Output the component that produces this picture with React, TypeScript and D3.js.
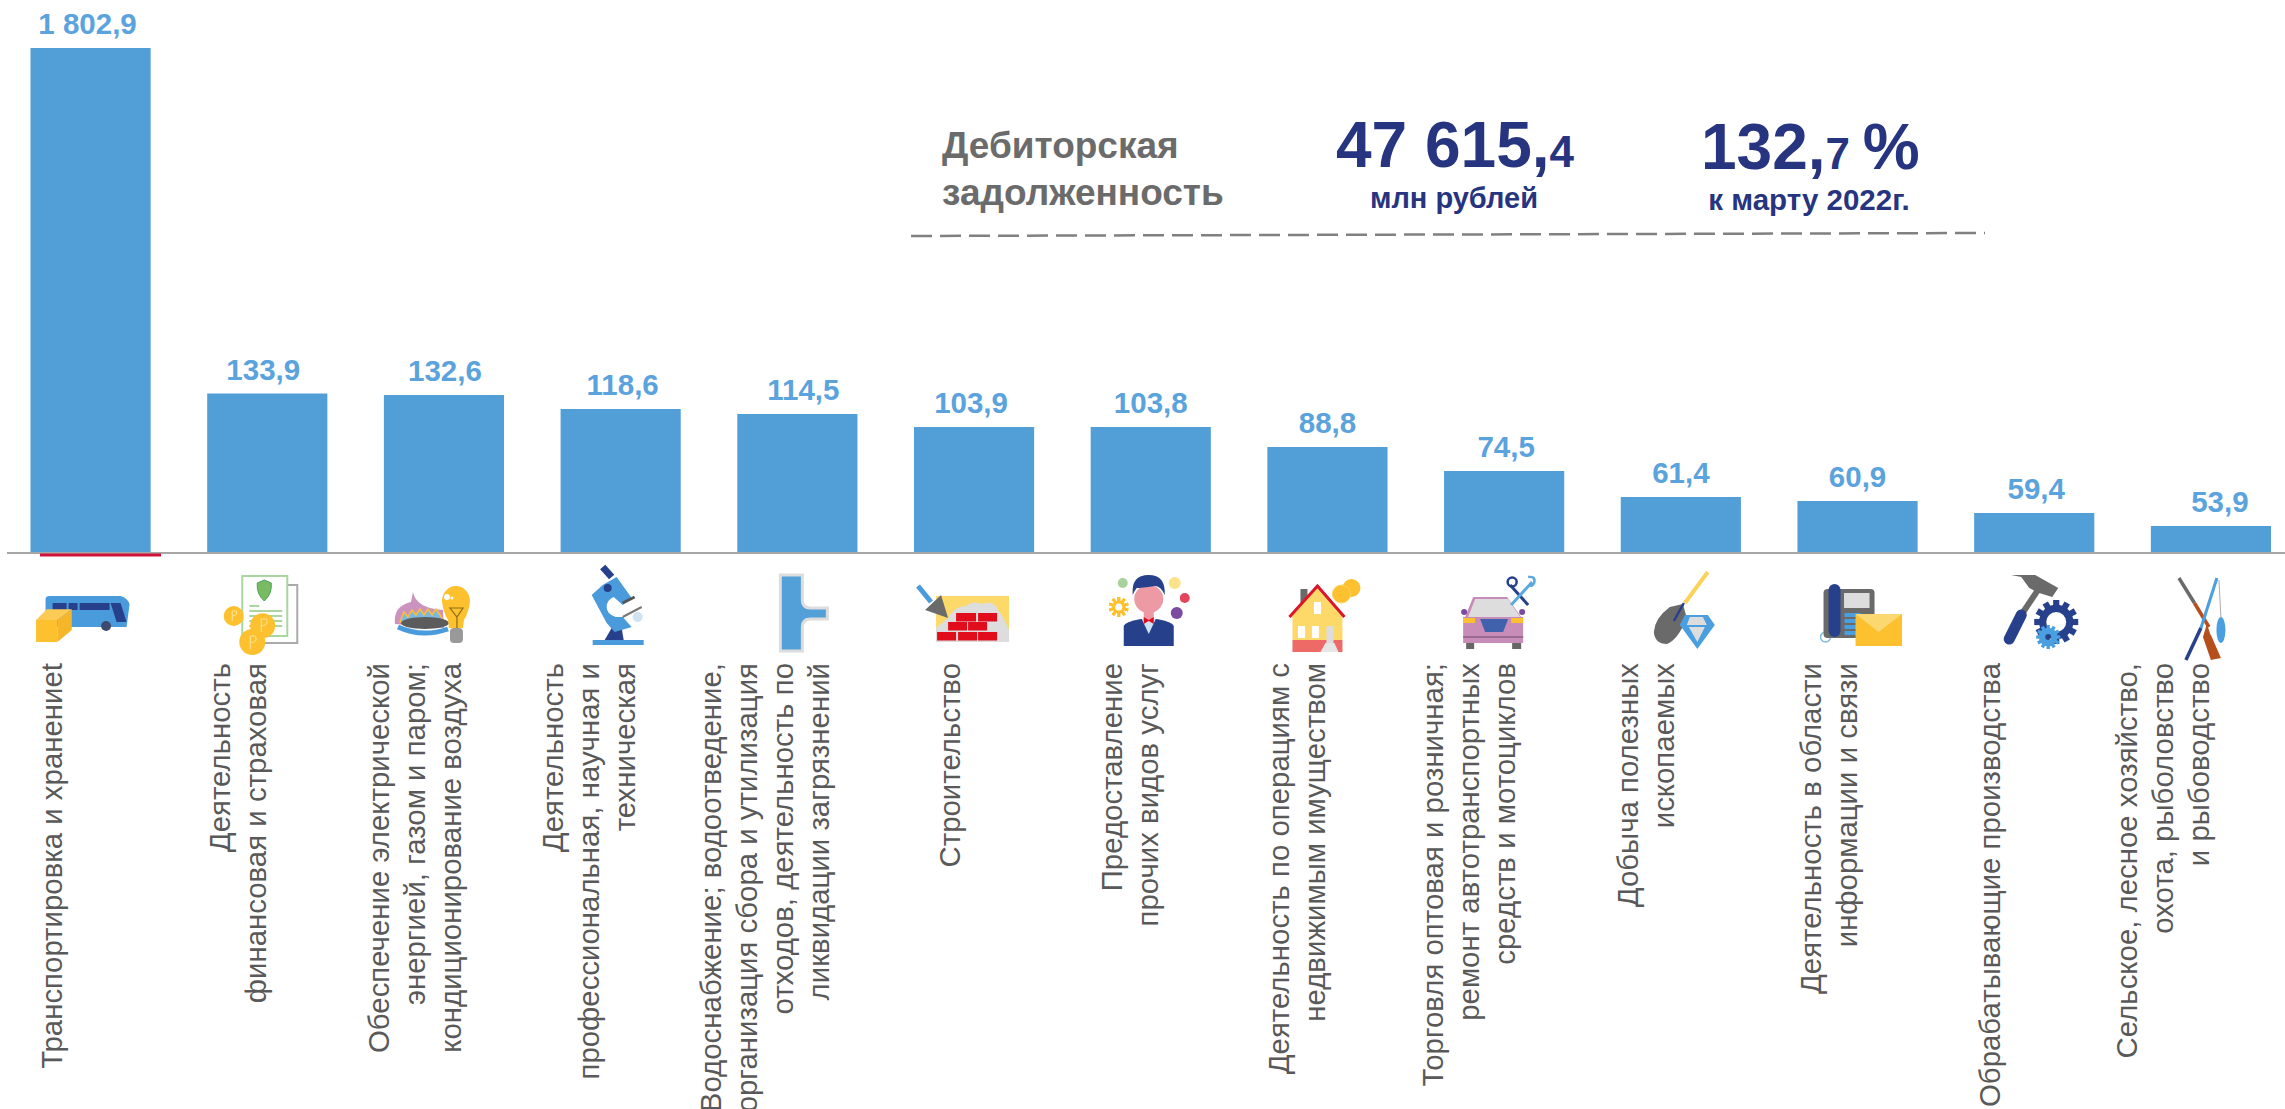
import React from "react";
import * as d3 from "d3";

const categories = [
  "transport", "finance", "energy", "science", "water", "building", "services",
  "realty", "trade", "mining", "info", "manufacture", "agro",
];

const values = [1802.9, 133.9, 132.6, 118.6, 114.5, 103.9, 103.8, 88.8, 74.5, 61.4, 60.9, 59.4, 53.9];

const labels = [
  ["Транспортировка и хранениеt"],
  ["Деятельность", "финансовая и страховая"],
  ["Обеспечение электрической", "энергией, газом и паром;", "кондиционирование воздуха"],
  ["Деятельность", "профессиональная, научная и", "техническая"],
  ["Водоснабжение; водоотведение,", "организация сбора и утилизация", "отходов, деятельность по", "ликвидации загрязнений"],
  ["Строительство"],
  ["Предоставление", "прочих видов услуг"],
  ["Деятельность по операциям с", "недвижимым имуществом"],
  ["Торговля оптовая и розничная;", "ремонт автотранспортных", "средств и мотоциклов"],
  ["Добыча полезных", "ископаемых"],
  ["Деятельность в области", "информации и связи"],
  ["Обрабатывающие производства"],
  ["Сельское, лесное хозяйство,", "охота, рыболовство", "и рыбоводство"],
];

const WIDTH = 2285;
const HEIGHT = 1109;
const FONT = "'Liberation Sans', Arial, sans-serif";

const BLUE = "#529fd8";
const NAVY = "#27408b";
const TEXT_NAVY = "#27347f";
const YELLOW = "#fdc02f";
const GRAY = "#6b6b6b";

const fmt = d3.formatLocale({ decimal: ",", thousands: " ", grouping: [3], currency: ["", ""] }).format(",.1f");

const BusIcon = () => (
  <g>
    <path d="M-45,-1 Q-45,-4 -41,-4 H30 Q37,-2 39,4 L36,27 H-45 Z" fill="#4a9bdc" />
    <rect x={-38} y={3} width={14} height={7} fill={NAVY} />
    <rect x={-22} y={3} width={9} height={7} fill={NAVY} />
    <rect x={-11} y={3} width={30} height={7} fill={NAVY} />
    <path d="M20,3 H30 L36,22 H26 Z" fill={NAVY} />
    <circle cx={15.5} cy={26} r={5} fill="#3d4a6e" />
    <path d="M-54.5,20 L-43.8,9.3 H-18.8 L-33.2,20 Z" fill="#fdcb55" />
    <rect x={-54.5} y={20} width={21.3} height={22} fill={YELLOW} />
    <path d="M-33.2,20 L-18.8,9.3 V30 L-33.2,42 Z" fill="#f5b62a" />
  </g>
);

const FinanceIcon = () => (
  <g>
    <rect x={-15} y={-15} width={45} height={58} fill="#fff" stroke="#aaa" strokeWidth={2} />
    <rect x={-25} y={-24} width={45} height={60} fill="#fff" stroke="#a9d79f" strokeWidth={2} />
    <path d="M-10,-17 L-3,-20 L4,-17 Q5,-6 -3,1 Q-11,-6 -10,-17 Z" fill="#78bb62" stroke="#4da35a" />
    <path d="M-18,6 H-8 M-18,11 H15 M-18,16 H15 M-18,21 H15 M-18,26 H15" stroke="#a9d79f" strokeWidth={2} />
    <circle cx={-33.6} cy={16} r={10} fill={YELLOW} />
    <circle cx={-4.6} cy={25.7} r={12.5} fill={YELLOW} />
    <circle cx={-15} cy={42} r={13} fill={YELLOW} />
    <path d="M-35,21 V11 H-31 Q-29,15 -35,16 M-6,32 V19 H-1 Q2,25 -6,26 M-17,49 V36 H-12 Q-9,42 -17,43" stroke="#fbe08a" strokeWidth={1.2} fill="none" />
  </g>
);

const EnergyIcon = () => (
  <g>
    <path d="M-49,24 Q-51,6 -33,2 Q-32,-3 -31,-8 Q-28,8 -1,10 L0,28 Z" fill="#cc93bf" />
    <path d="M-44,22 L-40,12 L-36,17 L-32,10 L-28,15 L-24,9 L-20,15 L-16,9 L-12,15 L-8,9 L-4,15 L0,22 Z" fill="#7db8e2" stroke={YELLOW} strokeWidth={1.5} />
    <ellipse cx={-19} cy={23} rx={24} ry={6} fill="#5c5c5c" />
    <path d="M-46,27 Q-22,38 4,29" stroke="#4a9bdc" strokeWidth={5} fill="none" />
    <path d="M-2,1 A14,15 0 1 1 26,1 Q25,12 20,20 L19,28 H5 L4,20 Q-1,12 -2,1 Z" fill={YELLOW} />
    <path d="M6,8 H19 L13,17 Z M13,17 V28" stroke="#8a6a18" strokeWidth={1.2} fill="none" />
    <rect x={6} y={28} width={13} height={15} rx={4} fill="#999" />
    <circle cx={3} cy={-3} r={3} fill="#fff" />
    <circle cx={8} cy={-2} r={1.5} fill="#fff" />
  </g>
);

const ScienceIcon = () => (
  <g>
    <path d="M-9,28 H1 L3,40 H-16 Z" fill={NAVY} />
    <rect x={-28} y={40} width={51} height={5} fill="#4a9bdc" />
    <path d="M-29,-5 L-18,-15 L-4,-23 L11,-2 L2,5 L-7,-3 Q-14,0 -14,7 Q-14,14 -5,17 L2,17 L11,27 L-6,32 L-14,23 Z" fill="#4a9bdc" />
    <path d="M-18,-33 L-9,-23" stroke={NAVY} strokeWidth={7} />
    <circle cx={-13} cy={-12} r={4} fill={NAVY} />
    <path d="M2,3 L14,-3" stroke="#555" strokeWidth={3} />
    <path d="M2,17 L21,7" stroke="#777" strokeWidth={2} />
    <circle cx={17} cy={17} r={5} fill="#cfe3f3" />
  </g>
);

const WaterIcon = () => (
  <path
    d="M-17,-25 H5 V0 Q5,8 13,8 H30 V19 H13 Q5,19 5,27 V51 H-17 Z"
    fill={BLUE}
    stroke="#ddd"
    strokeWidth={3}
  />
);

const BuildingIcon = () => {
  const bricks = [
    [-18, 13, 20], [4, 13, 19],
    [-26, 22, 19], [-6, 22, 19],
    [-37, 32, 19], [-16, 32, 19], [4, 32, 19],
  ];
  return (
    <g>
      <rect x={-38} y={-4} width={73} height={46} fill="#fdd96b" />
      <path d="M-38,42 V28 L-26,18 Q-20,6 -8,6 Q-2,0 8,4 Q20,0 24,10 Q30,18 35,30 V42 Z" fill="#ddd" />
      {bricks.map(([x, y, w]) => (
        <rect key={`${x}-${y}`} x={x} y={y} width={w} height={8.5} fill="#e2101f" />
      ))}
      <path d="M-49,10 L-33,-5 L-26,18 Z" fill={GRAY} />
      <path d="M-56,-14 L-43,2" stroke="#4a9bdc" strokeWidth={5} />
    </g>
  );
};

const ServicesIcon = () => {
  const teeth = d3.range(10).map((i) => i * 36);
  return (
    <g>
      <path d="M-27,46 V26 Q-26,22 -10,19 H6 Q22,22 23,26 V46 Z" fill={NAVY} />
      <path d="M-9,19 L-2,34 L5,19 Z" fill="#cfe5f5" />
      <rect x={-7} y={8} width={10} height={12} fill="#ee9aa5" />
      <ellipse cx={-2} cy={-1} rx={14.5} ry={14} fill="#ee9aa5" />
      <path d="M-18,-5 Q-20,-25 -2,-25 Q15,-25 14,-5 Q10,-14 4,-14 Q-10,-12 -14,-12 Q-16,-10 -18,-5 Z" fill={NAVY} />
      <path d="M-7,17 L-2,20 L3,17 V24 L-2,21 L-7,24 Z" fill="#e2101f" />
      {teeth.map((a) => (
        <rect key={a} x={-1.5} y={-10} width={3} height={20} fill={YELLOW} transform={`translate(-32,7) rotate(${a})`} />
      ))}
      <circle cx={-32} cy={7} r={5} fill="#fff" stroke={YELLOW} strokeWidth={3} />
      <circle cx={-28} cy={-17} r={5} fill="#a7d29b" />
      <circle cx={24} cy={-17} r={6} fill="#fbe28b" />
      <circle cx={34} cy={-2} r={5} fill="#e2455c" />
      <circle cx={26} cy={13} r={6} fill="#7a4ba0" />
    </g>
  );
};

const RealtyIcon = () => (
  <g>
    <rect x={-27} y={-11} width={7} height={14} fill={GRAY} />
    <rect x={-35} y={17} width={50} height={23} fill="#fdd96b" />
    <rect x={-35} y={40} width={50} height={12} fill="#ee6a66" />
    <path d="M-38,17 L-10,-14 L17,17 Z" fill="#fdd96b" />
    <path d="M-38,17 L-10,-14 L17,17" fill="none" stroke="#d9142b" strokeWidth={3} />
    <rect x={-13.5} y={2} width={7} height={12} fill="#fff" />
    <rect x={-29.5} y={26} width={7} height={12} fill="#fff" />
    <rect x={-15.5} y={26} width={7} height={12} fill="#fff" />
    <rect x={-1} y={26} width={7} height={17} fill="#ddd" />
    <path d="M-2,43 H7 L11,52 H-7 Z" fill="#e6e6e6" />
    <circle cx={24} cy={-12} r={9} fill={YELLOW} />
    <circle cx={14} cy={-6} r={9} fill={YELLOW} stroke="#fbd45e" />
  </g>
);

const TradeIcon = () => (
  <g>
    <rect x={-38} y={43} width={8} height={6} fill="#666" />
    <rect x={8} y={43} width={9} height={6} fill="#666" />
    <path d="M-31,-3 H3 L17,17 L19,17 V43 H-41 V17 H-39 Z" fill="#c88cb8" />
    <path d="M-29,-1 H4 L16,17 H-36 Z" fill="#ddd" />
    <path d="M-24,19 H4 L-1,32 H-19 Z" fill="#3f62ac" />
    <rect x={-41} y={18} width={12} height={5} fill={YELLOW} />
    <rect x={7} y={18} width={12} height={5} fill={YELLOW} />
    <path d="M-41,37 H19" stroke="#8d5f87" strokeWidth={1.5} />
    <circle cx={-40} cy={12} r={3} fill="#7a4ba0" />
    <circle cx={18} cy={12} r={3} fill="#7a4ba0" />
    <path d="M6,-15 L24,5" stroke={NAVY} strokeWidth={3} />
    <path d="M28,-18 L7,5" stroke="#5aa8e0" strokeWidth={3} />
    <circle cx={8} cy={-18} r={4.5} fill="none" stroke={NAVY} strokeWidth={2.5} />
    <path d="M24,-23 Q32,-24 30,-17 Q28,-13 25,-15" fill="none" stroke="#5aa8e0" strokeWidth={2.5} />
  </g>
);

const MiningIcon = () => (
  <g>
    <path d="M4,3 L27,-28" stroke="#fbd35b" strokeWidth={4} />
    <path d="M2,4 L-11,7 Q-26,18 -27,32 Q-26,44 -14,44 Q-3,40 6,18 Z" fill={GRAY} />
    <path d="M3,3 L-7,21" stroke={NAVY} strokeWidth={2.5} />
    <path d="M4,15 H27 L34,25 L16.5,49 L-1,25 Z" fill="#4a9fdf" />
    <path d="M9,17 H22 L26,25 H6 Z M8,27 H24 L16.5,42 Z" fill="#ddd" />
  </g>
);

const InfoIcon = () => {
  const keys = d3.range(4).map((i) => i * 6);
  return (
    <g>
      <circle cx={-32} cy={37} r={5} fill="none" stroke="#7cbbe8" strokeWidth={1.5} />
      <rect x={-34} y={-11} width={51} height={49} rx={4} fill={GRAY} />
      <rect x={-13.5} y={-7} width={25.5} height={15} fill="#ddd" />
      <rect x={-29} y={-16} width={12} height={53} rx={6} fill={NAVY} />
      {keys.map((k) => (
        <rect key={k} x={-13} y={13 + k} width={16} height={4} fill="#4a9fdf" />
      ))}
      <rect x={-2} y={14} width={46.5} height={32} fill={YELLOW} />
      <path d="M-2,14 L21,32 L44.5,14 Z" fill="#fbd96f" />
    </g>
  );
};

// teeth sit only on the outer part of the ring, so the hole stays open
const Gear = ({ cx, cy, r, hole, color }: { cx: number; cy: number; r: number; hole: number; color: string }) => {
  const teeth = d3.range(12).map((i) => i * 30);
  const ring = r * 0.78;
  return (
    <g transform={`translate(${cx},${cy})`}>
      {teeth.map((a) => (
        <rect
          key={a}
          x={-r * 0.14}
          y={-r}
          width={r * 0.28}
          height={r - ring + 2}
          fill={color}
          transform={`rotate(${a})`}
        />
      ))}
      <circle r={(ring + hole) / 2} fill="none" stroke={color} strokeWidth={ring - hole} />
    </g>
  );
};

const ManufactureIcon = () => (
  <g>
    <path d="M-13,15 L5,-12" stroke={GRAY} strokeWidth={6} />
    <path d="M-25,39 L-13,15" stroke={NAVY} strokeWidth={11} strokeLinecap="round" />
    <path d="M-23,-25 H1 L24,-12 L18,-3 L5,-7 L-5,-12 L-13,-23 Z" fill={GRAY} />
    <Gear cx={22} cy={22} r={22} hole={10} color={NAVY} />
    <Gear cx={14} cy={37} r={12} hole={3} color="#4a9fdf" />
  </g>
);

const AgroIcon = () => (
  <g>
    <path d="M-32,-22 L-16.5,3" stroke={GRAY} strokeWidth={3.5} />
    <path d="M-16.5,3 L-2,27" stroke="#b64f1c" strokeWidth={3.5} />
    <path d="M-8,37 L0,35 L10,58 L0,60 Z M-4,24 L0,36 L-8,37 Z" fill="#b64f1c" />
    <path d="M6,-22 L-10,28" stroke="#4a9fdf" strokeWidth={3} />
    <path d="M-10,28 L-25,60" stroke={NAVY} strokeWidth={3.5} />
    <path d="M8,-20 L10,17" stroke="#aaa" strokeWidth={1} />
    <ellipse cx={10} cy={30} rx={4.5} ry={13} fill="#4a9fdf" />
  </g>
);

const icons = [
  BusIcon, FinanceIcon, EnergyIcon, ScienceIcon, WaterIcon, BuildingIcon, ServicesIcon,
  RealtyIcon, TradeIcon, MiningIcon, InfoIcon, ManufactureIcon, AgroIcon,
];

export default function App() {
  const baseY = 553;

  const x = d3
    .scaleBand()
    .domain(categories)
    .range([30.5, 2271])
    .paddingInner(0.32)
    .paddingOuter(0);

  // The bars in the source are not proportional (the first is cut and the rest are stretched),
  // so the scale goes through every value
  const y = d3
    .scaleLinear()
    .domain([0, ...[...values].sort(d3.ascending)])
    .range([baseY, 526, 513, 501, 497, 471, 447, 427, 427, 414, 409, 395, 393.5, 48]);

  // where the last text line of each category sits, from the middle of its bar
  const labelShift = [-39, -12, 7, 4, 21, -25, -3, -13, 0, -17, -11, -45, -12];
  // value labels are not quite centred in the source
  const valueShift = [-3, -4, 1, 2, 6, -3, 0, 0, 2, 0, 0, 2, 9];
  const labelTop = 663;
  const lineGap = 36;

  return (
    <svg
      width={WIDTH}
      height={HEIGHT}
      style={{ position: "absolute", left: 0, top: 0, display: "block" }}
      fontFamily={FONT}
    >
      <defs>
        <filter id="soft" x="-10%" y="-10%" width="120%" height="120%">
          <feGaussianBlur stdDeviation={0.6} />
        </filter>
      </defs>
      <rect width={WIDTH} height={HEIGHT} fill="#fff" />

      {categories.map((c, i) => (
        <g key={c}>
          <rect
            x={x(c)}
            y={y(values[i])}
            width={x.bandwidth()}
            height={baseY - y(values[i])}
            fill={BLUE}
          />
          <text
            x={x(c)! + x.bandwidth() / 2 + valueShift[i]}
            y={y(values[i]) - 14}
            textAnchor="middle"
            fontSize={29.5}
            fontWeight="bold"
            fill="#5ba3dc"
          >
            {fmt(values[i])}
          </text>
        </g>
      ))}

      <line x1={7} x2={WIDTH} y1={baseY} y2={baseY} stroke="#a6a6a6" strokeWidth={2} />
      <line x1={40} x2={161} y1={baseY + 2} y2={baseY + 2} stroke="#d0103a" strokeWidth={3} />

      {categories.map((c, i) => {
        const Icon = icons[i];
        const cx = x(c)! + x.bandwidth() / 2;
        const lines = labels[i];
        return (
          <g key={c}>
            <g transform={`translate(${cx},600)`} filter="url(#soft)">
              <Icon />
            </g>
            {lines.map((line, k) => {
              const lx = cx + labelShift[i] - (lines.length - 1 - k) * lineGap;
              return (
                <text
                  key={k}
                  transform={`translate(${lx},${labelTop}) rotate(-90)`}
                  textAnchor="end"
                  dominantBaseline="central"
                  fontSize={29.4}
                  fill="#595959"
                >
                  {line}
                </text>
              );
            })}
          </g>
        );
      })}

      <g fontWeight="bold">
        <text x={942} y={158} fontSize={37} fill={GRAY}>Дебиторская</text>
        <text x={942} y={205} fontSize={37} fill={GRAY}>задолженность</text>

        <text x={1336} y={167} fontSize={64} fill={TEXT_NAVY}>
          47 615,<tspan fontSize={44}>4</tspan>
        </text>
        <text x={1454} y={208} fontSize={29} fill={TEXT_NAVY} textAnchor="middle">млн рублей</text>

        <text x={1701} y={169} fontSize={64} fill={TEXT_NAVY}>
          132,<tspan fontSize={44}>7</tspan>
          <tspan dx={-5}> %</tspan>
        </text>
        <text x={1809} y={210} fontSize={29.5} fill={TEXT_NAVY} textAnchor="middle">к марту 2022г.</text>
      </g>

      <line x1={911} y1={236} x2={1985} y2={233} stroke="#808080" strokeWidth={2.5} strokeDasharray="21 8" />
    </svg>
  );
}
